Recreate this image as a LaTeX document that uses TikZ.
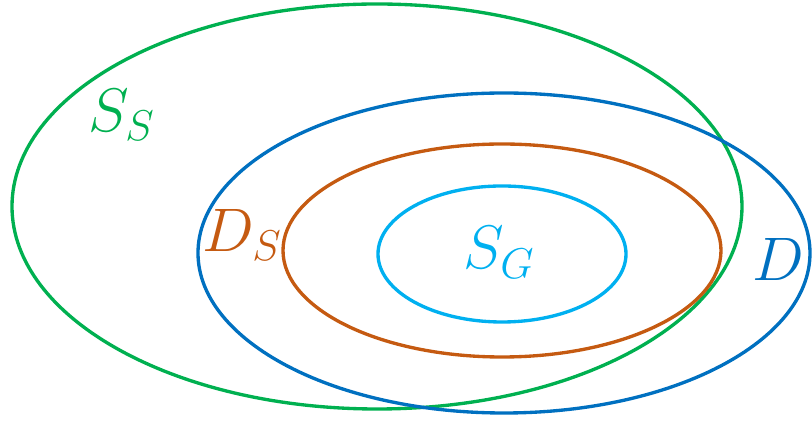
\documentclass[tikz,border=0pt]{standalone}
\usepackage{fix-cm}
\usepackage{amsmath,amssymb}
\usepackage{tikz}
\usetikzlibrary{calc}
\usepackage{xcolor}
\definecolor{GreenS} {RGB}{0,  176, 80}
\definecolor{BlueD}  {RGB}{0,  112,192}
\definecolor{OrangeD}{RGB}{197, 90, 17}
\definecolor{CyanG}  {RGB}{0,  176,240}

\begin{document}
\begin{tikzpicture}[set/.style={line width=1.9pt},
    lbl/.style={inner sep=0pt,font=\fontsize{35}{42}\selectfont}]
        \useasboundingbox (0,0) rectangle (16.24,8.46);
        % nested sets
        \draw[set,draw=GreenS]  (7.54,4.33) ellipse (7.30 and 4.05);
        \draw[set,draw=BlueD]   (10.08,3.40) ellipse (6.12 and 3.20);
        \draw[set,draw=OrangeD] (10.04,3.45) ellipse (4.38 and 2.13);
        \draw[set,draw=CyanG]   (10.04,3.38) ellipse (2.48 and 1.36);
        % labels
        \node[lbl,text=GreenS]  (ss) at (2.43,6.16) {$S_S$};
        \node[lbl,text=OrangeD] (ds) at (4.84,3.76) {$D_S$};
        \node[lbl,text=CyanG]   (sg) at (9.98,3.41) {$S_G$};
        \node[lbl,text=BlueD]   (d)  at (15.56,3.28) {$D$};
      \end{tikzpicture}
\end{document}
